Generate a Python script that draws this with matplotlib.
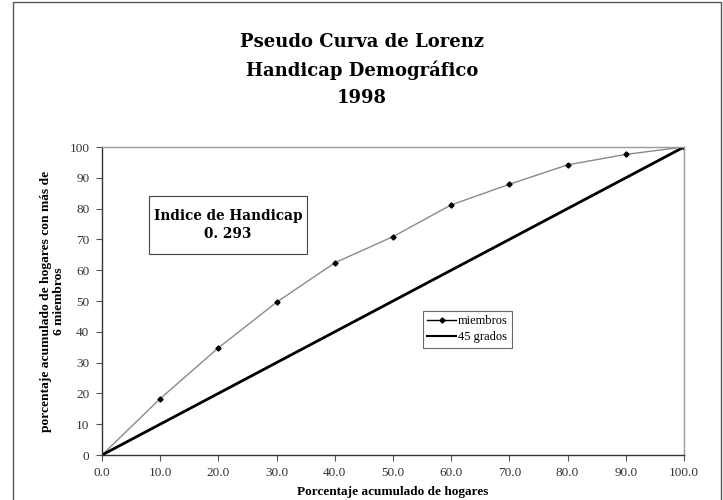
import matplotlib
matplotlib.use("Agg")
import matplotlib.pyplot as plt
from matplotlib.patches import Rectangle

x_pct = [0, 10, 20, 30, 40, 50, 60, 70, 80, 90, 100]
miembros = [0, 18.3, 34.8, 49.6, 62.4, 70.9, 81.2, 87.9, 94.2, 97.6, 100]
grados45 = [0, 10, 20, 30, 40, 50, 60, 70, 80, 90, 100]
x_ticks = [0, 10, 20, 30, 40, 50, 60, 70, 80, 90, 100]
y_ticks = [0, 10, 20, 30, 40, 50, 60, 70, 80, 90, 100]

serif = ["Liberation Serif", "DejaVu Serif"]
wide_serif = ["DejaVu Serif"]

fig = plt.figure(figsize=(7.23, 5.0), dpi=100)
fig.patch.set_facecolor("white")
fig.add_artist(Rectangle((13/723, -0.01), (721-13)/723, 1-2/500 + 0.01,
                         transform=fig.transFigure, fill=False,
                         edgecolor="#555555", linewidth=1.0))

ax = fig.add_axes([102/723, 1-455/500, (684-102)/723, (455-147)/500])
ax.plot(x_pct, miembros, color="#8a8a8a", linewidth=1.0, marker="D",
        markersize=2.6, markerfacecolor="black", markeredgecolor="black",
        label="miembros")
ax.plot(x_pct, grados45, color="black", linewidth=2.0, label="45 grados")

ax.set_xlim(0, 100)
ax.set_ylim(0, 100)
ax.set_xticks(x_ticks)
ax.set_xticklabels([f"{v:.1f}" for v in x_ticks])
ax.set_yticks(y_ticks)
ax.set_yticklabels([str(v) for v in y_ticks])
for lab in ax.get_xticklabels() + ax.get_yticklabels():
    lab.set_family(serif)
    lab.set_fontsize(9.5)
    lab.set_color("#333333")
ax.tick_params(axis="both", direction="out", length=4, width=0.8,
               color="#555555", pad=5)
for side in ["left", "bottom"]:
    ax.spines[side].set_color("#333333")
    ax.spines[side].set_linewidth(1.0)
for side in ["top", "right"]:
    ax.spines[side].set_color("#999999")
    ax.spines[side].set_linewidth(1.0)

ax.set_xlabel("Porcentaje acumulado de hogares", family=serif,
              fontweight="bold", fontsize=9.5, labelpad=5)
ax.set_ylabel("porcentaje acumulado de hogares con más de\n6 miembros",
              family=serif, fontweight="bold", fontsize=9.7, labelpad=3,
              linespacing=1.15)

leg = ax.legend(loc="upper left", bbox_to_anchor=((423-102)/582, (455-311)/308),
                prop={"family": serif, "size": 9}, frameon=True,
                fancybox=False, edgecolor="#444444", handlelength=2.3,
                handletextpad=0.15, borderpad=0.35, labelspacing=0.3,
                borderaxespad=0)
leg.get_frame().set_linewidth(0.8)
for h in leg.get_lines():
    h.set_color("black")
leg.get_lines()[1].set_linewidth(1.5)

box = Rectangle(((149-102)/582, (455-254)/308), (307-149)/582, (254-196)/308,
                transform=ax.transAxes, facecolor="white", edgecolor="#444444",
                linewidth=0.8, zorder=4)
ax.add_patch(box)
ax.text(((149+307)/2-102)/582, (455-225)/308,
        "Indice de Handicap\n0. 293", transform=ax.transAxes,
        ha="center", va="center", family=wide_serif, fontweight="bold",
        fontsize=9.8, linespacing=1.35, zorder=5)

fig.text(362/723, 1-70/500, "Pseudo Curva de Lorenz\nHandicap Demográfico\n1998",
         ha="center", va="center", family=wide_serif, fontweight="bold",
         fontsize=13, linespacing=1.6)

fig.savefig("out.png", dpi=100, facecolor="white")
